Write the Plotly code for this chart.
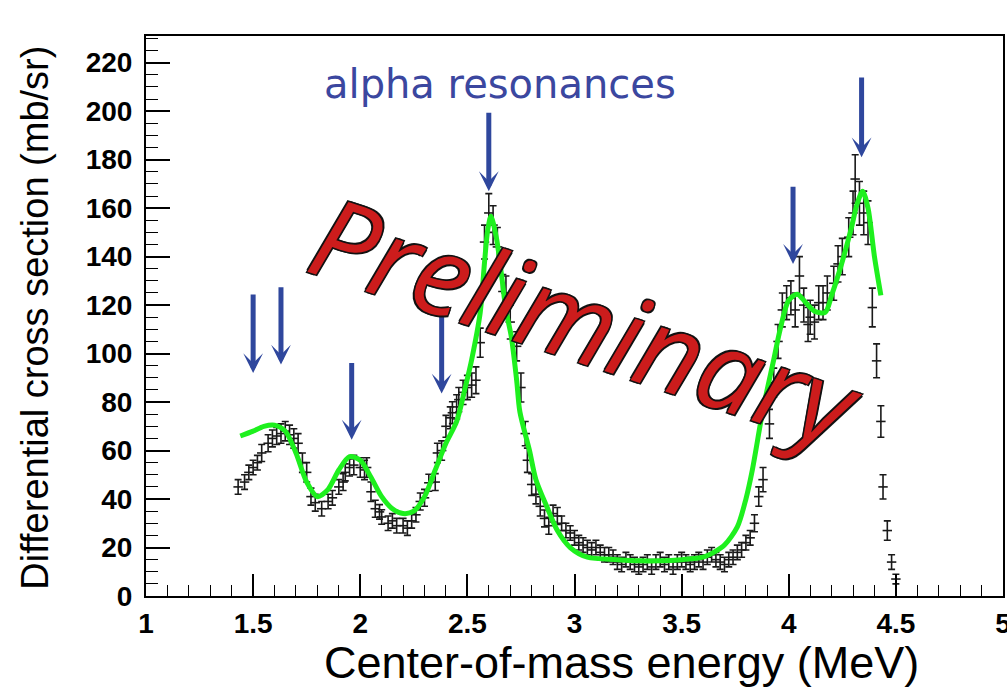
import plotly.graph_objects as go

# Measured differential cross section (mb/sr) vs centre-of-mass energy (MeV)
energy = [
    1.43, 1.46, 1.48, 1.50, 1.52, 1.54, 1.57, 1.59, 1.61, 1.63, 1.65, 1.67, 1.69, 1.71, 1.73, 1.75, 1.77, 1.79, 1.82, 1.85,
    1.87, 1.90, 1.92, 1.93, 1.95, 1.97, 2.00, 2.02, 2.03, 2.05, 2.07, 2.09, 2.10, 2.13, 2.15, 2.17, 2.20, 2.22, 2.24, 2.26,
    2.28, 2.30, 2.32, 2.35, 2.36, 2.38, 2.40, 2.42, 2.43, 2.45, 2.46, 2.48, 2.50, 2.52, 2.54, 2.56, 2.58, 2.60, 2.62, 2.64,
    2.66, 2.68, 2.70, 2.73, 2.75, 2.77, 2.78, 2.80, 2.82, 2.84, 2.86, 2.88, 2.90, 2.92, 2.94, 2.96, 2.98, 3.00, 3.02, 3.04,
    3.06, 3.08, 3.10, 3.12, 3.14, 3.16, 3.18, 3.20, 3.22, 3.24, 3.26, 3.28, 3.30, 3.32, 3.34, 3.36, 3.38, 3.40, 3.42, 3.44,
    3.46, 3.48, 3.50, 3.52, 3.54, 3.56, 3.58, 3.60, 3.62, 3.64, 3.66, 3.68, 3.70, 3.72, 3.74, 3.76, 3.78, 3.80, 3.82, 3.84,
    3.86, 3.88, 3.91, 3.93, 3.95, 3.97, 3.99, 4.01, 4.03, 4.05, 4.07, 4.09, 4.10, 4.12, 4.14, 4.16, 4.18, 4.21, 4.23, 4.25,
    4.28, 4.30, 4.31, 4.33, 4.35, 4.37, 4.39, 4.41, 4.43, 4.44, 4.46, 4.48, 4.50,
]
xsec = [
    45, 47, 51, 53, 55, 59, 63, 65, 66, 67, 68, 66.5, 65, 63, 55, 51, 41, 38.5, 36, 39,
    40.5, 45, 47, 51, 53, 54, 53, 52, 53, 43, 36, 34.7, 32.6, 30, 31, 29, 29, 28, 31, 33.5,
    39, 40.5, 46.7, 47, 59, 60, 70, 73.5, 75.6, 78, 81, 84, 86, 87, 89, 104.5, 146, 158, 153, 144,
    132.6, 125, 113, 103, 86, 67, 56, 46, 42, 37, 32, 29, 34, 33, 30, 27, 26, 24, 22, 21,
    20, 19, 20, 18, 17, 17, 16, 14, 13, 15, 14, 13, 12, 13, 14, 12, 14, 15, 13, 14,
    12, 14, 15, 14, 13, 14, 15, 14, 16, 17, 15, 14, 13, 15, 16, 18, 19, 22, 24, 30,
    41, 48, 71, 88, 105, 118, 121, 123, 118, 132, 120, 112, 115, 113, 121, 121, 125, 129, 137, 140,
    148, 158, 172, 162, 158, 154, 119, 97, 72, 45, 27, 14, 7,
]
xsec_err = [
    3, 3, 3, 3, 3, 3.5, 3.5, 3.5, 3.5, 4, 4, 4, 4, 4, 4, 4, 3.5, 3.5, 3, 3,
    3, 3, 3.5, 3.5, 3.5, 4, 4, 4, 4, 4, 3.5, 3, 3, 3, 3, 3, 3, 3, 3, 3,
    3.5, 3.5, 3.5, 3.5, 4, 4, 4.5, 4.5, 4.5, 5, 5, 5, 5, 5, 5.5, 6, 7, 8, 8, 8,
    7, 7, 7, 6, 6, 5, 5, 4.5, 4, 4, 3.5, 3.5, 3.5, 3.5, 3, 3, 3, 3, 3, 3,
    3, 3, 3, 3, 3, 3, 3, 3, 3, 3, 3, 3, 3, 3, 3, 3, 3, 3, 3, 3,
    3, 3, 3, 3, 3, 3, 3, 3, 3, 3, 3, 3, 3, 3, 3, 3, 3, 3, 3, 3.5,
    4, 5, 6, 6, 7, 7, 7, 7, 7, 8, 7, 7, 7, 7, 7, 7, 7, 7, 7.5, 7.5,
    8, 9, 10, 9, 9, 9, 8, 7, 6.5, 5, 4, 3, 2,
]

# R-matrix style fit curve
fit_energy = [
    1.44, 1.50, 1.55, 1.60, 1.65, 1.70, 1.75, 1.80, 1.85, 1.90, 1.95, 2.00, 2.05, 2.10, 2.15, 2.20, 2.25, 2.30,
    2.35, 2.40, 2.45, 2.49, 2.52, 2.56, 2.58, 2.595, 2.61, 2.635, 2.66, 2.68, 2.705, 2.73, 2.745, 2.79, 2.82,
    2.87, 2.92, 2.98, 3.06, 3.20, 3.30, 3.40, 3.50, 3.60, 3.66, 3.70, 3.76, 3.80, 3.83, 3.88, 3.93, 3.96, 4.00,
    4.04, 4.08, 4.12, 4.17, 4.20, 4.24, 4.29, 4.32, 4.345, 4.37, 4.40, 4.43,
]
fit_xsec = [
    66, 68, 70, 70.5, 68, 59, 47, 41, 44, 52, 57.5, 56, 49, 41, 36, 34, 35, 41,
    52, 63, 72, 86, 97.5, 117, 137.6, 151, 156.6, 148, 132, 118, 107, 89, 76, 60, 48,
    37, 27, 20, 16, 15, 14.5, 14.5, 15, 16, 18.5, 21, 28.5, 40, 52, 77, 97.5, 110, 122,
    124.5, 121, 117.5, 117, 124, 135, 151, 162, 167, 160, 140, 124,
]

# Arrows marking the alpha resonances: (energy, tip value, tail value)
arrow_energy = [1.50, 1.63, 1.96, 2.38, 2.60, 4.02, 4.34]
arrow_tip = [92, 95.5, 64.5, 83.5, 167, 137, 181]
arrow_tail = [125, 128, 96.7, 116, 200, 169.4, 214.5]

fig = go.Figure()

fig.add_trace(go.Scatter(
    x=energy, y=xsec, mode="markers",
    marker=dict(size=1, color="#1a1a1a"),
    error_y=dict(type="data", array=xsec_err, width=3.5, thickness=1.6, color="#1a1a1a"),
    error_x=dict(type="constant", value=0.022, width=0, thickness=1.6, color="#1a1a1a"),
    showlegend=False, hoverinfo="skip",
))

fig.add_trace(go.Scatter(
    x=fit_energy, y=fit_xsec, mode="lines",
    line=dict(color="#1ef01e", width=5, shape="spline", smoothing=0.8),
    showlegend=False, hoverinfo="skip",
))

annotations = []
for e, tip, tail in zip(arrow_energy, arrow_tip, arrow_tail):
    annotations.append(dict(
        x=e, y=tip, ax=e, ay=tail, xref="x", yref="y", axref="x", ayref="y",
        text="", showarrow=True, arrowhead=3, arrowwidth=5, arrowsize=0.66,
        arrowcolor="#2f479d", standoff=0,
    ))

annotations.append(dict(
    x=2.65, y=211, xref="x", yref="y", text="alpha resonances", showarrow=False,
    xanchor="center", yanchor="middle",
    font=dict(family="DejaVu Sans", size=40, color="#3b479f"),
))

annotations.append(dict(
    x=3.06, y=114, xref="x", yref="y", text="Preliminary", showarrow=False,
    xanchor="center", yanchor="middle", textangle=18.5,
    font=dict(family="Open Sans", size=111, color="#cc1c1c", style="italic",
              shadow="1.5px 1.5px 0 #111, -1.5px -1.5px 0 #111, 1.5px -1.5px 0 #111, -1.5px 1.5px 0 #111"),
))

annotations.append(dict(
    x=0.555, y=-0.118, xref="paper", yref="paper", text="Center-of-mass energy (MeV)",
    xanchor="center", yanchor="middle",
    showarrow=False, font=dict(family="Liberation Sans", size=45, color="#000"),
))
annotations.append(dict(
    x=-0.1295, y=0.497, xref="paper", yref="paper", text="Differential cross section (mb/sr)",
    xanchor="center", yanchor="middle",
    showarrow=False, textangle=-90, font=dict(family="Liberation Sans", size=38, color="#000"),
))

fig.update_layout(
    width=1007, height=691,
    margin=dict(l=146, r=4, t=36, b=95, autoexpand=False),
    paper_bgcolor="white", plot_bgcolor="white",
    annotations=annotations,
    xaxis=dict(
        range=[1, 5], dtick=0.5, tick0=1, ticks="inside", ticklen=22, tickwidth=1.5, tickcolor="#000",
        minor=dict(dtick=0.1, ticks="inside", ticklen=11, tickwidth=1.2, tickcolor="#000"),
        showline=True, linecolor="#000", linewidth=2, mirror=True,
        showgrid=False, zeroline=False, automargin=False,
        tickfont=dict(family="Liberation Sans", size=28, color="#000", weight="bold"),
        ticklabelstandoff=1, ticklabeloverflow="allow",
    ),
    yaxis=dict(
        range=[0, 231], dtick=20, tick0=0, ticks="inside", ticklen=24, tickwidth=1.5, tickcolor="#000",
        minor=dict(dtick=5, ticks="inside", ticklen=12, tickwidth=1.2, tickcolor="#000"),
        showline=True, linecolor="#000", linewidth=2, mirror=True,
        showgrid=False, zeroline=False, automargin=False,
        tickfont=dict(family="Liberation Sans", size=28, color="#000", weight="bold"),
        ticklabelstandoff=6,
    ),
)

fig.write_html("out.html")
